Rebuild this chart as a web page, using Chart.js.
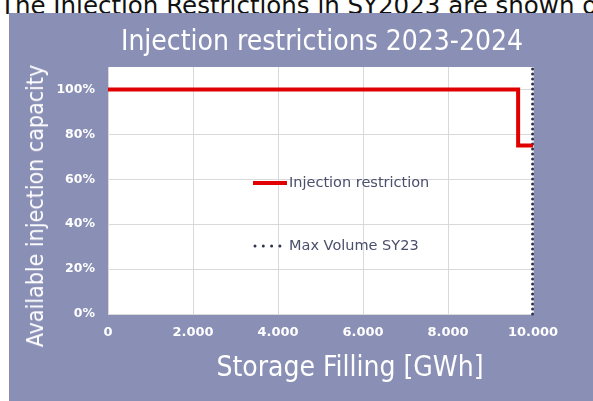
<!DOCTYPE html>
<html>
<head>
<meta charset="utf-8">
<script src="https://cdn.jsdelivr.net/npm/chart.js@4"></script>
<style>
  body { margin: 0; background: #fff; width: 593px; height: 401px; overflow: hidden; position: relative; }
  #caption { position: absolute; left: 0; top: -6px; font: 24.5px/24px "DejaVu Sans", sans-serif; color: #111; white-space: nowrap; }
  #panel { position: absolute; left: 9px; top: 13px; width: 584px; height: 388px; background: #8a8fb6; }
  #panel canvas { position: absolute; left: 0; top: 0; }
  .lbl { position: absolute; color: #fff; font-family: "DejaVu Sans Condensed", "Liberation Sans Narrow", sans-serif; white-space: nowrap; transform: translate(-50%, -50%); }
  #title { left: 313px; top: 27px; font-size: 28px; }
  #xtitle { left: 341px; top: 353px; font-size: 28px; }
  #ytitle { left: 26px; top: 193px; font-size: 23px; transform: translate(-50%, -50%) rotate(-90deg); }
</style>
</head>
<body>
<div id="caption">The Injection Restrictions in SY2023 are shown o</div>
<div id="panel">
  <canvas id="chart" width="584" height="388"></canvas>
  <div class="lbl" id="title">Injection restrictions 2023-2024</div>
  <div class="lbl" id="ytitle">Available injection capacity</div>
  <div class="lbl" id="xtitle">Storage Filling [GWh]</div>
</div>
<script>
// Chart data
const restrictionFilling = [0, 9650, 9650, 10000];   // GWh
const restrictionCapacity = [1, 1, 0.75, 0.75];       // share of capacity
const maxVolumeFilling = [9990, 9990];               // GWh
const maxVolumeCapacity = [0, 1.1];
const xTicks = [0, 2000, 4000, 6000, 8000, 10000];
const yTicks = [0, 0.2, 0.4, 0.6, 0.8, 1];

const tickFont = '"DejaVu Sans", sans-serif';

function toPoints(xs, ys) {
  return xs.map((x, i) => ({ x: x, y: ys[i] }));
}

// Legend drawn inside the plot area
const innerLegend = {
  id: 'innerLegend',
  afterDraw(chart) {
    const ctx = chart.ctx;
    const area = chart.chartArea;
    const x0 = area.left + 145;
    const rows = [area.top + 116, area.top + 179];
    ctx.save();
    ctx.font = '14.5px ' + tickFont;
    ctx.textBaseline = 'middle';
    chart.data.datasets.forEach((ds, i) => {
      const y = rows[i];
      ctx.strokeStyle = ds.borderColor;
      ctx.lineWidth = ds.borderWidth;
      ctx.lineCap = ds.borderCapStyle || 'butt';
      ctx.setLineDash(i === 0 ? [] : [0, 8.3]);
      ctx.beginPath();
      ctx.moveTo(x0 + (i === 0 ? 0 : 2), y);
      ctx.lineTo(x0 + (i === 0 ? 34 : 28), y);
      ctx.stroke();
      ctx.setLineDash([]);
      ctx.fillStyle = '#4a4f6c';
      ctx.fillText(ds.label, x0 + 36, y);
    });
    ctx.restore();
  }
};

new Chart(document.getElementById('chart'), {
  type: 'line',
  data: {
    datasets: [
      {
        label: 'Injection restriction',
        data: toPoints(restrictionFilling, restrictionCapacity),
        borderColor: '#e00000',
        borderWidth: 4,
        pointRadius: 0,
        borderJoinStyle: 'miter',
        clip: false
      },
      {
        label: 'Max Volume SY23',
        data: toPoints(maxVolumeFilling, maxVolumeCapacity),
        borderColor: '#2f3350',
        borderWidth: 3,
        borderDash: [0, 5],
        borderCapStyle: 'round',
        pointRadius: 0,
        clip: false
      }
    ]
  },
  options: {
    responsive: false,
    animation: false,
    layout: { padding: { left: 0, right: 60, top: 54, bottom: 0 } },
    plugins: {
      legend: { display: false },
      tooltip: { enabled: false },
      title: { display: false }
    },
    scales: {
      x: {
        type: 'linear',
        min: 0,
        max: 10000,
        afterBuildTicks: s => { s.ticks = xTicks.map(v => ({ value: v })); },
        afterFit: s => { s.height = 87; },
        ticks: {
          color: '#ffffff',
          font: { family: tickFont, size: 13, weight: 'bold' },
          padding: 11,
          maxRotation: 0,
          callback: v => v.toLocaleString('de-DE')
        },
        grid: { color: '#d9d9d9', drawTicks: false },
        border: { display: false }
      },
      y: {
        min: 0,
        max: 1.1,
        afterBuildTicks: s => { s.ticks = yTicks.map(v => ({ value: v })); },
        afterFit: s => { s.width = 99; },
        ticks: {
          color: '#ffffff',
          font: { family: tickFont, size: 12.5, weight: 'bold' },
          padding: 13,
          callback: v => Math.round(v * 100) + '%'
        },
        grid: { color: '#d9d9d9', drawTicks: false },
        border: { display: false }
      }
    }
  },
  plugins: [
    {
      id: 'plotBackground',
      beforeDraw(chart) {
        const a = chart.chartArea;
        chart.ctx.save();
        chart.ctx.fillStyle = '#ffffff';
        chart.ctx.fillRect(a.left, a.top, a.right - a.left, a.bottom - a.top);
        chart.ctx.restore();
      }
    },
    innerLegend
  ]
});
</script>
</body>
</html>
